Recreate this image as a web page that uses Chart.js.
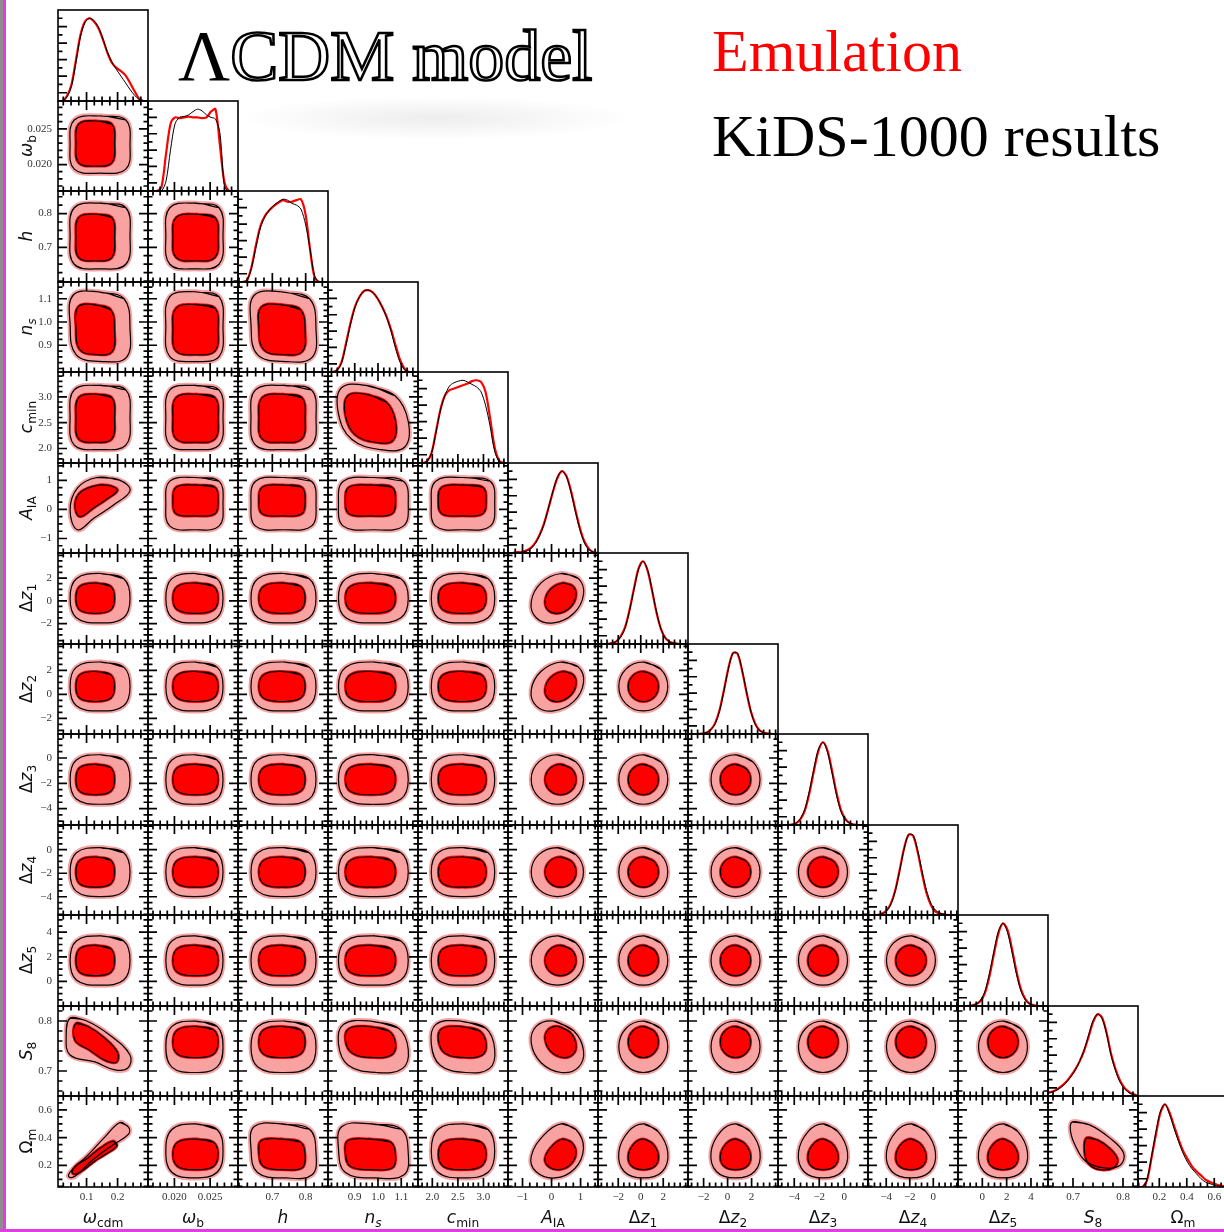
<!DOCTYPE html>
<html>
<head>
<meta charset="utf-8">
<title>ΛCDM model – Emulation vs KiDS-1000</title>
<script src="https://cdn.jsdelivr.net/npm/chart.js@4.4.1/dist/chart.umd.min.js"></script>
<style>
  html, body { margin: 0; padding: 0; }
  body { width: 1224px; height: 1232px; position: relative; overflow: hidden; background: #fff; font-family: 'DejaVu Sans', sans-serif; }
  canvas { position: absolute; }
  .title { position: absolute; font-family: 'Liberation Serif', 'DejaVu Serif', serif; white-space: nowrap; }
  .outl { color: #fff; -webkit-text-stroke: 2.6px #000; }
  .axlab { position: absolute; font-size: 17px; white-space: nowrap; transform: translate(-50%, -50%); color: #111; }
  .axlab sub { font-size: 72%; vertical-align: -0.3em; line-height: 0; }
  .ylab { transform: translate(-50%, -50%) rotate(-90deg); }
</style>
</head>
<body>
<div style="position:absolute;left:235px;top:96px;width:400px;height:44px;background:radial-gradient(ellipse at center, rgba(0,0,0,0.07), rgba(0,0,0,0) 70%);"></div>
<div class="title" style="left:178px;top:20px;font-size:72px;line-height:72px;"><span style="color:#000">Λ</span><span class="outl">CDM model</span></div>
<div class="title" style="left:712px;top:21px;font-size:60px;line-height:60px;color:#f00;">Emulation</div>
<div class="title" style="left:712px;top:106px;font-size:60px;line-height:60px;color:#000;">KiDS-1000 results</div>
<div style="position:absolute;left:0;top:0;width:3px;height:1232px;background:#8d8d8d;"></div>
<div style="position:absolute;left:3px;top:0;width:3px;height:1232px;background:#e23de2;"></div>
<div style="position:absolute;left:0;top:1229px;width:1224px;height:3px;background:#e23de2;"></div>
<script>
// ---- parameters (axis order of the triangle) ----
const paramLabels = ['<i>ω</i><sub>cdm</sub>', '<i>ω</i><sub>b</sub>', '<i>h</i>', '<i>n</i><sub><i>s</i></sub>',
  '<i>c</i><sub>min</sub>', '<i>A</i><sub>IA</sub>', 'Δ<i>z</i><sub>1</sub>', 'Δ<i>z</i><sub>2</sub>',
  'Δ<i>z</i><sub>3</sub>', 'Δ<i>z</i><sub>4</sub>', 'Δ<i>z</i><sub>5</sub>', '<i>S</i><sub>8</sub>', 'Ω<sub>m</sub>'];
const ranges = [[0.008, 0.298], [0.0163, 0.0289], [0.597, 0.867], [0.785, 1.172], [1.72, 3.48], [-1.5, 1.6],
  [-3.8, 4.2], [-3.3, 4.2], [-5.3, 1.9], [-5.55, 2.1], [-2.0, 5.4], [0.65, 0.83], [0.045, 0.70]];
const tickValues = [[0.1, 0.2], [0.020, 0.025], [0.7, 0.8], [0.9, 1.0, 1.1], [2.0, 2.5, 3.0], [-1, 0, 1],
  [-2, 0, 2], [-2, 0, 2], [-4, -2, 0], [-4, -2, 0], [0, 2, 4], [0.7, 0.8], [0.2, 0.4, 0.6]];
const tickLabels = [['0.1', '0.2'], ['0.020', '0.025'], ['0.7', '0.8'], ['0.9', '1.0', '1.1'], ['2.0', '2.5', '3.0'],
  ['\u22121', '0', '1'], ['\u22122', '0', '2'], ['\u22122', '0', '2'], ['\u22124', '\u22122', '0'],
  ['\u22124', '\u22122', '0'], ['0', '2', '4'], ['0.7', '0.8'], ['0.2', '0.4', '0.6']];
const minorSteps = [0.025, 0.001, 0.025, 0.025, 0.1, 0.25, 0.5, 0.5, 0.5, 0.5, 0.5, 0.02, 0.05];
const pdfMajor = [0.1, 0.3, 0.5, 0.7, 0.9];
const pdfMinor = [0.2, 0.4, 0.6, 0.8, 1.0];

// ---- 1D marginals, 21 samples evenly across each axis range (peak = 1) ----
const emuPdf = [
  [0, 0, 0.06, 0.2, 0.5, 0.8, 0.96, 1.0, 0.96, 0.88, 0.74, 0.58, 0.46, 0.4, 0.36, 0.31, 0.22, 0.12, 0.03, 0, 0],
  [0, 0, 0, 0.05, 0.45, 0.82, 0.9, 0.89, 0.9, 0.91, 0.9, 0.9, 0.89, 0.9, 0.97, 1.0, 0.55, 0.1, 0, 0, 0],
  [0, 0, 0.02, 0.18, 0.45, 0.68, 0.8, 0.87, 0.92, 0.96, 0.99, 0.97, 0.97, 0.99, 1.0, 0.82, 0.4, 0.06, 0, 0, 0],
  [0, 0, 0.02, 0.12, 0.35, 0.6, 0.8, 0.92, 0.99, 1.0, 0.97, 0.9, 0.8, 0.68, 0.52, 0.33, 0.15, 0.04, 0, 0, 0],
  [0, 0, 0.02, 0.12, 0.38, 0.65, 0.82, 0.88, 0.9, 0.92, 0.94, 0.96, 0.99, 1.0, 0.98, 0.86, 0.55, 0.2, 0.03, 0, 0],
  [0, 0, 0.01, 0.01, 0.03, 0.06, 0.12, 0.22, 0.36, 0.55, 0.75, 0.92, 1.0, 0.94, 0.76, 0.52, 0.3, 0.14, 0.05, 0.01, 0],
  [0, 0, 0, 0.01, 0.03, 0.09, 0.2, 0.41, 0.67, 0.91, 1.0, 0.89, 0.65, 0.38, 0.18, 0.07, 0.025, 0.01, 0, 0, 0],
  [0, 0, 0, 0.005, 0.015, 0.05, 0.13, 0.29, 0.54, 0.81, 0.99, 0.98, 0.78, 0.51, 0.27, 0.12, 0.04, 0.015, 0.005, 0, 0],
  [0, 0, 0, 0.005, 0.02, 0.07, 0.18, 0.39, 0.66, 0.9, 1.0, 0.9, 0.66, 0.39, 0.18, 0.07, 0.02, 0.005, 0, 0, 0],
  [0, 0, 0, 0.015, 0.05, 0.13, 0.29, 0.54, 0.81, 0.98, 0.97, 0.78, 0.51, 0.27, 0.12, 0.04, 0.015, 0.005, 0, 0, 0],
  [0, 0, 0, 0.005, 0.02, 0.06, 0.16, 0.36, 0.63, 0.88, 1.0, 0.92, 0.69, 0.42, 0.2, 0.08, 0.025, 0.008, 0, 0, 0],
  [0.04, 0.055, 0.08, 0.12, 0.17, 0.24, 0.32, 0.42, 0.55, 0.72, 0.9, 1.0, 0.96, 0.78, 0.52, 0.33, 0.19, 0.1, 0.05, 0.02, 0.005],
  [0, 0, 0.08, 0.35, 0.64, 0.9, 1.0, 0.9, 0.74, 0.58, 0.44, 0.34, 0.25, 0.19, 0.14, 0.09, 0.06, 0.04, 0.02, 0.01, 0]
];
const kidsPdf = [
  [0, 0, 0.05, 0.18, 0.47, 0.78, 0.95, 1.0, 0.97, 0.89, 0.75, 0.59, 0.47, 0.38, 0.3, 0.22, 0.14, 0.07, 0.02, 0, 0],
  [0, 0, 0, 0, 0.12, 0.5, 0.82, 0.9, 0.91, 0.93, 0.97, 1.0, 0.98, 0.93, 0.9, 0.88, 0.7, 0.05, 0, 0, 0],
  [0, 0, 0.02, 0.17, 0.42, 0.66, 0.79, 0.87, 0.93, 0.97, 1.0, 0.99, 0.95, 0.93, 0.88, 0.7, 0.4, 0.08, 0, 0, 0],
  [0, 0, 0.02, 0.11, 0.33, 0.58, 0.79, 0.92, 0.99, 1.0, 0.97, 0.9, 0.8, 0.67, 0.5, 0.29, 0.12, 0.03, 0, 0, 0],
  [0, 0, 0.02, 0.12, 0.37, 0.64, 0.82, 0.93, 0.97, 0.99, 1.0, 0.98, 0.95, 0.92, 0.86, 0.7, 0.45, 0.15, 0.02, 0, 0],
  [0, 0, 0, 0.01, 0.02, 0.05, 0.11, 0.21, 0.35, 0.55, 0.76, 0.93, 1.0, 0.93, 0.74, 0.5, 0.28, 0.12, 0.04, 0.01, 0],
  [0, 0, 0, 0.01, 0.03, 0.08, 0.19, 0.4, 0.66, 0.9, 1.0, 0.9, 0.66, 0.39, 0.18, 0.07, 0.02, 0.01, 0, 0, 0],
  [0, 0, 0, 0.005, 0.015, 0.05, 0.12, 0.28, 0.53, 0.8, 0.99, 0.99, 0.79, 0.52, 0.27, 0.11, 0.04, 0.01, 0, 0, 0],
  [0, 0, 0, 0.005, 0.025, 0.08, 0.2, 0.42, 0.69, 0.92, 1.0, 0.88, 0.63, 0.36, 0.16, 0.06, 0.02, 0.005, 0, 0, 0],
  [0, 0, 0, 0.01, 0.04, 0.12, 0.28, 0.53, 0.8, 0.98, 0.98, 0.8, 0.54, 0.3, 0.14, 0.06, 0.025, 0.01, 0, 0, 0],
  [0, 0, 0, 0.005, 0.02, 0.07, 0.18, 0.4, 0.67, 0.91, 1.0, 0.89, 0.65, 0.38, 0.18, 0.07, 0.02, 0.005, 0, 0, 0],
  [0.035, 0.05, 0.075, 0.11, 0.16, 0.23, 0.31, 0.42, 0.56, 0.74, 0.92, 1.0, 0.95, 0.76, 0.5, 0.31, 0.17, 0.09, 0.04, 0.015, 0],
  [0, 0, 0.09, 0.37, 0.67, 0.92, 1.0, 0.88, 0.71, 0.55, 0.41, 0.3, 0.22, 0.16, 0.1, 0.06, 0.04, 0.02, 0.01, 0, 0]
];

// ---- 2D credible regions: extent of the 68% / 95% contours per parameter ----
const lo95 = [0.047, 0.0188, 0.636, 0.83, 1.98, -0.7, -1.95, -1.38, -3.66, -3.98, -0.31, 0.697, 0.11];
const hi95 = [0.240, 0.0268, 0.831, 1.13, 3.22, 1.1, 2.4, 2.7, 0.26, 0.18, 3.71, 0.80, 0.50];
const lo68 = [0.066, 0.0198, 0.66, 0.86, 2.12, -0.22, -1.1, -0.59, -2.9, -3.18, 0.47, 0.727, 0.17];
const hi68 = [0.19, 0.0261, 0.798, 1.075, 3.05, 0.84, 1.56, 1.91, -0.5, -0.62, 2.93, 0.789, 0.39];

// contour outlines, in units of the contour box (-1..1), clockwise from the top
const outlines = {
  R:   [0, 1, .86, .86, 1, 0, .86, -.86, 0, -1, -.86, -.86, -1, 0, -.86, .86],
  M:   [0, 1, .79, .79, 1, 0, .79, -.79, 0, -1, -.79, -.79, -1, 0, -.79, .79],
  O:   [0, 1, .71, .71, 1, 0, .71, -.71, 0, -1, -.71, -.71, -1, 0, -.71, .71],
  Op:  [.15, 1, .8, .8, 1, .15, .62, -.62, -.15, -1, -.8, -.8, -1, -.15, -.62, .62],
  On:  [-.15, 1, .62, .62, 1, -.15, .8, -.8, .15, -1, -.62, -.62, -1, .15, -.8, .8],
  Rn:  [-.08, 1, .8, .8, 1, -.08, .88, -.88, .08, -1, -.8, -.8, -1, .08, -.9, .9],
  Mn:  [-.1, 1, .72, .72, 1, -.1, .84, -.84, .1, -1, -.72, -.72, -1, .1, -.86, .86],
  Rn2: [-.2, 1, .62, .68, 1, -.12, .9, -.92, .2, -1, -.62, -.68, -1, .12, -.92, .92],
  Egg: [0, 1, .6, .72, 1, -.05, .78, -.76, 0, -1, -.78, -.76, -1, -.05, -.6, .72],
  EggP:[.15, 1, .72, .78, 1, .1, .66, -.66, -.1, -1, -.82, -.76, -1, -.2, -.5, .6],
  BAN95: [-.1, 1, .65, .9, 1, .5, .45, -.05, -.2, -.55, -.75, -1, -1, -.25, -.75, .6],
  BAN68: [.2, 1, .8, .95, 1.15, .65, .55, .05, -.1, -.5, -.8, -1.05, -1.05, -.3, -.75, .55],
  DIAG95: [.67, 1.05, .95, .88, .95, .62, .4, .2, -.3, -.38, -.85, -.95, -1.05, -.95, -.95, -.72, -.4, -.15, .15, .5],
  DIAG68: [.95, .87, 1.12, .55, .55, .02, 0, -.42, -.6, -1.0, -1.05, -1.3, -1.2, -1.15, -1, -.75, -.45, -.3, .3, .45],
  CS895: [-1, 1.11, -.5, 1.03, .33, .45, 1, -.32, .93, -.82, .5, -.9, -.17, -.59, -1, -.32, -1.13, .45],
  CS868: [-1, 1.2, -.38, 1, .44, .3, 1.15, -.66, 1.1, -1.3, .49, -1.17, -.28, -.53, -1.05, .11],
  SOM95: [-.96, 1.07, -.3, .96, .48, .48, 1.02, -.07, .9, -.52, .28, -.63, -.46, -.37, -.85, .19, -1.04, .74],
  SOM68: [-1, 1.07, -.29, .93, .48, .4, 1, -.33, .74, -.87, -.16, -1, -.87, -.6, -1.13, .2]
};
// outline used in each lower-triangle panel [row][col]
const panelShape = [
  [],
  ['R'],
  ['R', 'R'],
  ['Rn', 'R', 'Rn'],
  ['R', 'R', 'R', 'Rn2'],
  ['BAN', 'R', 'R', 'R', 'R'],
  ['M', 'M', 'M', 'M', 'M', 'Op'],
  ['M', 'M', 'M', 'M', 'M', 'Op', 'O'],
  ['M', 'M', 'M', 'M', 'M', 'O', 'O', 'O'],
  ['M', 'M', 'M', 'M', 'M', 'O', 'O', 'O', 'O'],
  ['M', 'M', 'M', 'M', 'M', 'O', 'O', 'O', 'O', 'O'],
  ['CS8', 'M', 'M', 'Mn', 'Mn', 'On', 'O', 'O', 'O', 'O', 'O'],
  ['DIAG', 'M', 'Rn', 'Rn', 'M', 'EggP', 'Egg', 'Egg', 'Egg', 'Egg', 'Egg', 'SOM']
];

const RED = '#ff0000', LIGHT = '#f8a2a2';
const X0 = 58, W = 90, Y0 = 10, H = 90.5, N = 13;
const colL = c => X0 + W * c;
const rowT = r => Math.round(Y0 + H * r);

Chart.defaults.font.family = 'Liberation Serif';

function tickSets(p) {
  const [lo, hi] = ranges[p], st = minorSteps[p];
  const minor = [];
  for (let n = Math.ceil(lo / st - 1e-9); n * st <= hi + 1e-12; n++) {
    const v = +(n * st).toFixed(6);
    if (v > lo && v < hi && !tickValues[p].some(m => Math.abs(m - v) < st * 1e-3)) minor.push(v);
  }
  return { major: tickValues[p], minor };
}

function outlinePoints(tpl, c, r, lo, hi) {
  const cx = (lo[c] + hi[c]) / 2, hx = (hi[c] - lo[c]) / 2;
  const cy = (lo[r] + hi[r]) / 2, hy = (hi[r] - lo[r]) / 2;
  const pts = [];
  for (let i = 0; i < tpl.length; i += 2) pts.push({ x: cx + hx * tpl[i], y: cy + hy * tpl[i + 1] });
  pts.push({ ...pts[0] }, { ...pts[1] });
  return pts;
}

// frame + inward ticks on every panel edge
const framePlugin = {
  id: 'frame',
  afterDraw(chart, _args, o) {
    const { ctx, chartArea: a } = chart;
    const xs = chart.scales.x, ys = chart.scales.y;
    ctx.save();
    ctx.strokeStyle = '#000';
    ctx.lineWidth = 1.7;
    ctx.beginPath();
    [[o.xT.major, 9], [o.xT.minor, 4.5]].forEach(([vals, len]) => vals.forEach(v => {
      const px = xs.getPixelForValue(v);
      ctx.moveTo(px, a.bottom); ctx.lineTo(px, a.bottom - len);
      if (!o.diag) { ctx.moveTo(px, a.top); ctx.lineTo(px, a.top + len); }
    }));
    [[o.yT.major, 9], [o.yT.minor, 4.5]].forEach(([vals, len]) => vals.forEach(v => {
      const py = ys.getPixelForValue(v);
      ctx.moveTo(a.left, py); ctx.lineTo(a.left + len, py);
      if (!o.diag) { ctx.moveTo(a.right, py); ctx.lineTo(a.right - len, py); }
    }));
    ctx.stroke();
    ctx.lineWidth = 1.6;
    ctx.strokeRect(a.left, a.top, a.right - a.left, a.bottom - a.top);
    ctx.restore();
  }
};

function axisCfg(p, show, isY) {
  return {
    type: 'linear', min: ranges[p][0], max: ranges[p][1], display: show,
    grid: { display: false, drawTicks: false }, border: { display: false },
    afterBuildTicks: s => { s.ticks = tickValues[p].map(v => ({ value: v })); },
    afterFit: s => {
      if (!show) return;
      if (isY) s.width = X0; else s.height = 30;
      // keep the panel frame fixed: no extra room for overhanging labels
      s.paddingTop = 0; s.paddingBottom = 0; s.paddingLeft = 0; s.paddingRight = 0;
    },
    ticks: {
      autoSkip: false, maxRotation: 0, minRotation: 0, padding: isY ? 6 : 4, color: '#333',
      font: { family: 'Liberation Serif', size: 11 }, callback: (v, i) => tickLabels[p][i]
    }
  };
}

for (let r = 0; r < N; r++) {
  for (let c = 0; c <= r; c++) {
    const diag = r === c;
    const leftLab = c === 0 && !diag;
    const botLab = r === N - 1;
    const ph = rowT(r + 1) - rowT(r);
    const left = leftLab ? 0 : colL(c) - 2;
    const top = rowT(r) - 2;
    const w = leftLab ? colL(c) + W + 2 : W + 4;
    const h = botLab ? ph + 2 + 30 : ph + 4;

    const cv = document.createElement('canvas');
    cv.width = w; cv.height = h;
    cv.style.left = left + 'px'; cv.style.top = top + 'px';
    cv.style.width = w + 'px'; cv.style.height = h + 'px';
    document.body.appendChild(cv);

    let datasets;
    if (diag) {
      const [lo, hi] = ranges[c];
      const xsGrid = emuPdf[c].map((_, k) => lo + k * (hi - lo) / (emuPdf[c].length - 1));
      datasets = [
        { data: kidsPdf[c].map((v, k) => ({ x: xsGrid[k], y: v })), borderColor: '#000', borderWidth: 1 },
        { data: emuPdf[c].map((v, k) => ({ x: xsGrid[k], y: v })), borderColor: RED, borderWidth: 2.2 }
      ].map(d => Object.assign({ tension: 0.3, pointRadius: 0, fill: false, clip: 0 }, d));
    } else {
      const key = panelShape[r][c];
      const t95 = outlines[key + '95'] || outlines[key];
      const t68 = outlines[key + '68'] || outlines[key];
      const p95 = () => outlinePoints(t95, c, r, lo95, hi95);
      const p68 = () => outlinePoints(t68, c, r, lo68, hi68);
      datasets = [
        { data: p68(), borderColor: '#000', borderWidth: 1.2, fill: false },
        { data: p95(), borderColor: '#000', borderWidth: 1.2, fill: false },
        { data: p68(), borderColor: RED, backgroundColor: RED, borderWidth: 3, fill: 'shape' },
        { data: p95(), borderColor: LIGHT, backgroundColor: LIGHT, borderWidth: 5, fill: 'shape' }
      ].map(d => Object.assign({ tension: 0.4, pointRadius: 0, clip: 0 }, d));
    }

    new Chart(cv, {
      type: 'line',
      data: { datasets },
      options: {
        responsive: false, animation: false, events: [],
        layout: { padding: { left: leftLab ? 0 : 2, right: 2, top: 2, bottom: botLab ? 0 : 2 } },
        plugins: {
          legend: { display: false }, tooltip: { enabled: false },
          frame: { diag, xT: tickSets(c), yT: diag ? { major: pdfMajor, minor: pdfMinor } : tickSets(r) }
        },
        scales: {
          x: axisCfg(c, botLab, false),
          y: diag
            ? { type: 'linear', min: 0, max: 1.1, display: false }
            : axisCfg(r, leftLab, true)
        }
      },
      plugins: [framePlugin]
    });
  }
}

// axis titles
paramLabels.forEach((lab, p) => {
  const d = document.createElement('div');
  d.className = 'axlab';
  d.innerHTML = lab;
  d.style.left = (colL(p) + W / 2) + 'px';
  d.style.top = '1217px';
  document.body.appendChild(d);
  if (p > 0) {
    const e = document.createElement('div');
    e.className = 'axlab ylab';
    e.innerHTML = lab;
    e.style.left = '26px';
    e.style.top = (rowT(p) + 45) + 'px';
    document.body.appendChild(e);
  }
});
</script>
</body>
</html>
